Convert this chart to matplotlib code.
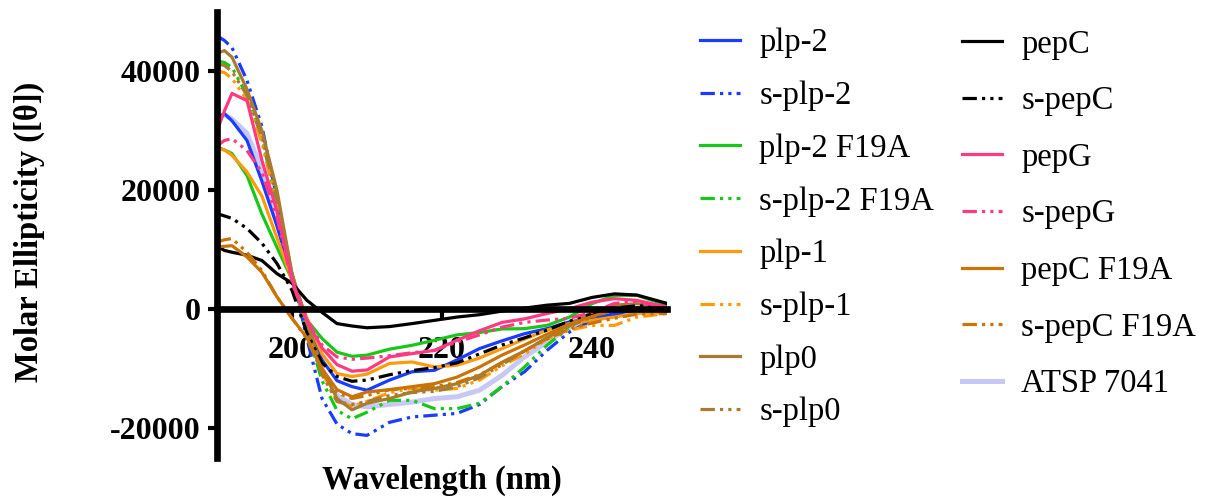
import matplotlib
matplotlib.use("Agg")
import matplotlib.pyplot as plt

plt.rcParams["font.family"] = ["Liberation Serif", "DejaVu Serif"]
plt.rcParams["axes.unicode_minus"] = False

# wavelength grid (nm)
wavelength = [190, 191, 192, 194, 196, 198, 200, 202, 204, 206, 208, 210, 213,
              216, 219, 222, 225, 228, 231, 234, 237, 240, 243, 246, 250]

plp_2 = [32300, 32900, 31700, 28400, 21500, 14000, 5500, -2500, -8500, -12000, -13000, -13600, -11900,
         -10500, -10250, -8500, -6600, -5300, -4100, -3250, -2100, -1600, -700, -150, 700]
s_plp_2 = [46000, 45200, 44000, 38500, 30700, 18500, 6000, -5000, -15000, -19300, -20900, -21200, -19000,
           -18100, -17800, -17500, -16000, -13000, -10500, -6900, -3800, -1850, -1000, -450, -200]
plp_2_f19a = [27300, 26800, 26200, 22500, 16000, 10400, 5000, -1800, -4900, -7200, -7900, -7700, -6700,
              -6050, -5200, -4300, -3900, -3300, -3250, -2700, -1300, 950, 2350, 2350, 700]
s_plp_2_f19a = [41800, 41500, 40700, 36000, 28800, 17500, 5500, -3500, -12000, -17000, -18400, -17300, -15300,
                -15300, -16700, -16700, -15800, -13000, -9700, -6050, -3000, -700, 100, -100, -200]
plp_1 = [27000, 26800, 25900, 23100, 19000, 12000, 5000, -1500, -7500, -10800, -11300, -10900, -9100,
         -8850, -9700, -9400, -8200, -6600, -5000, -3500, -2400, -1850, -1300, -700, -450]
s_plp_1 = [40100, 39800, 38800, 35300, 28000, 17500, 5500, -3000, -10500, -15500, -16300, -15500, -14000,
           -13300, -13600, -13300, -11900, -9500, -7500, -5000, -3500, -2700, -2700, -1300, -700]
plp0 = [43100, 43500, 42400, 37000, 30000, 20000, 6000, -2000, -10000, -15000, -16900, -15800, -15000,
        -13900, -13300, -12500, -11100, -8900, -7000, -4800, -2500, -500, 700, 950, 400]
s_plp0 = [41300, 41000, 40000, 36000, 29000, 18500, 5800, -3000, -11000, -15500, -16000, -15500, -14500,
          -14000, -13800, -13000, -11500, -9300, -7000, -4800, -2800, -1300, -100, 300, -300]
pepc = [10600, 9900, 9600, 9100, 8200, 6000, 4400, 1500, -500, -2400, -2800, -3100, -2900,
        -2400, -1850, -1300, -900, -300, 200, 700, 1000, 2000, 2600, 2400, 1000]
s_pepc = [16100, 15700, 15300, 13600, 11100, 7700, 3200, -4000, -9000, -11300, -12100, -11900, -11000,
          -10300, -9800, -9000, -7500, -6000, -4800, -3500, -2000, -800, 200, 600, 500]
pepg = [30000, 33400, 36300, 35100, 25000, 16500, 5000, -2000, -6500, -9300, -10400, -10200, -8000,
        -7450, -6900, -5200, -3600, -2200, -1600, -700, 100, 1200, 1800, 1500, 400]
s_pepg = [27500, 28400, 28700, 26700, 23000, 15500, 4500, -1800, -6000, -8000, -8400, -8200, -7800,
          -7300, -6900, -5500, -4300, -3000, -2200, -1800, -1500, -500, 1000, 1300, 300]
pepc_f19a = [10500, 10600, 10700, 8800, 6200, 2100, -1500, -4800, -10000, -13500, -14700, -13900, -13500,
             -13000, -12500, -11400, -9700, -7700, -6000, -4200, -2500, -1200, 0, 200, -300]
s_pepc_f19a = [11300, 11700, 11900, 9600, 6500, 2100, -1500, -5000, -10500, -14000, -15000, -14500, -13500,
               -13300, -13000, -12300, -11000, -9000, -7000, -5000, -3300, -2300, -1500, -800, -700]
atsp_7041 = [32300, 32700, 32000, 29600, 23500, 15000, 5500, -3000, -10000, -14500, -16000, -16400, -16000,
             -15600, -15000, -14700, -13600, -11100, -8000, -5500, -3000, -1200, -300, -100, 200]

labels = ["plp-2", "s-plp-2", "plp-2 F19A", "s-plp-2 F19A", "plp-1", "s-plp-1", "plp0", "s-plp0",
          "pepC", "s-pepC", "pepG", "s-pepG", "pepC F19A", "s-pepC F19A", "ATSP 7041"]
series = [plp_2, s_plp_2, plp_2_f19a, s_plp_2_f19a, plp_1, s_plp_1, plp0, s_plp0,
          pepc, s_pepc, pepg, s_pepg, pepc_f19a, s_pepc_f19a, atsp_7041]
colors = ["#1a3cff", "#1a3cff", "#18c818", "#18c818", "#ff9a0a", "#ff9a0a", "#a87c30", "#a87c30",
          "#000000", "#000000", "#ff3a82", "#ff3a82", "#c87408", "#c87408", "#c8c8f6"]

yticks = [-20000, 0, 20000, 40000]
ytick_labels = ["-20000", "0", "20000", "40000"]
xticks = [200, 220, 240]
xtick_labels = ["200", "220", "240"]

DASHDOT2 = (0, (4.5, 1.6, 1, 1.6, 1, 1.6))

fig = plt.figure(figsize=(12.3, 4.98), dpi=100)
ax = fig.add_axes([217 / 1230, 40 / 498, 450 / 1230, 446 / 498])

handles = []
for lab, ys, col in zip(labels, series, colors):
    if lab == "ATSP 7041":
        h, = ax.plot(wavelength, ys, color=col, lw=3.6, zorder=1.8, label=lab)
    elif lab.startswith("s-"):
        h, = ax.plot(wavelength, ys, color=col, lw=2.3, ls=DASHDOT2, zorder=2, label=lab)
    else:
        h, = ax.plot(wavelength, ys, color=col, lw=2.3, zorder=2, label=lab)
    handles.append(h)

ax.set_xlim(190, 250)
ax.set_ylim(-25000, 50000)
ax.spines["top"].set_visible(False)
ax.spines["right"].set_visible(False)
ax.spines["bottom"].set_position(("data", 0))
for side in ["left", "bottom"]:
    ax.spines[side].set_linewidth(4.8)
    ax.spines[side].set_zorder(5)
ax.xaxis.set_zorder(1.5)

ax.set_yticks(yticks)
ax.set_yticklabels(ytick_labels, fontsize=23, fontweight="bold")
ax.set_xticks(xticks)
ax.set_xticklabels(xtick_labels, fontsize=23, fontweight="bold")
ax.tick_params(axis="y", length=6.5, width=3, pad=5.5)
ax.tick_params(axis="x", length=6.5, width=3, pad=13)

fig.text(442 / 1230, 1 - 480 / 498, "Wavelength (nm)", ha="center", va="center",
         fontsize=23.5, fontweight="bold")
fig.text(29 / 1230, 1 - 232 / 498, "Molar Ellipticity ([θ])", ha="center", va="center",
         rotation=90, fontsize=23.5, fontweight="bold")

leg_kw = dict(loc="upper left", frameon=False, fontsize=23.5, handlelength=1.22,
              handletextpad=0.6, borderpad=0, borderaxespad=0)
leg1 = fig.legend(handles[:8], labels[:8], bbox_to_anchor=(700 / 1230, 1 - 28 / 498),
                  labelspacing=0.68, **leg_kw)
leg2 = fig.legend(handles[8:], labels[8:], bbox_to_anchor=(962 / 1230, 1 - 29 / 498),
                  labelspacing=0.8, **leg_kw)

fig.savefig("out.png", dpi=100)
